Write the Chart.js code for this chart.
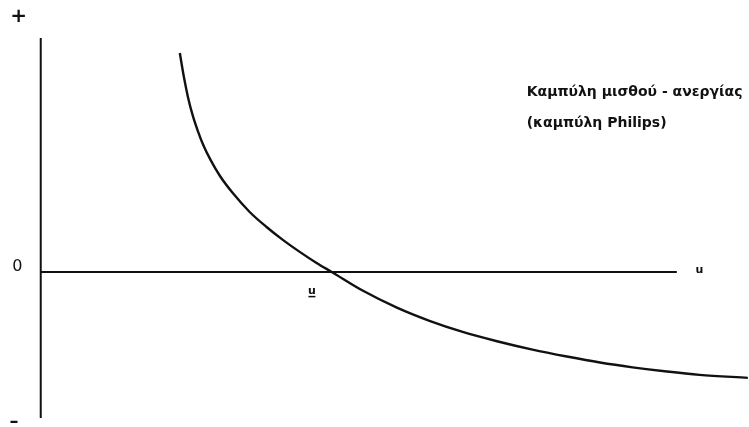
<!DOCTYPE html>
<html>
<head>
<meta charset="utf-8">
<script src="https://cdn.jsdelivr.net/npm/chart.js@4/dist/chart.umd.min.js"></script>
<style>
  html, body { margin: 0; padding: 0; background: #fff; }
  #wrap { width: 749px; height: 427px; }
</style>
</head>
<body>
<div id="wrap"><canvas id="chart" width="749" height="427"></canvas></div>
<script>
"use strict";

// Phillips curve (u = unemployment, y = wage change)
const curveU = [2.39, 2.46, 2.53, 2.61, 2.70, 2.80, 2.92, 3.08, 3.30, 3.59, 3.88, 4.16, 4.45, 4.74,
                5.00, 5.53, 6.12, 6.68, 7.25, 7.84, 8.45, 9.04, 9.61, 10.17, 10.76, 11.32, 12.15];
const curveW = [7.30, 6.50, 5.83, 5.23, 4.70, 4.20, 3.73, 3.20, 2.63, 2.00, 1.50, 1.07, 0.67, 0.30,
                0.00, -0.62, -1.19, -1.63, -2.00, -2.31, -2.59, -2.82, -3.02, -3.18, -3.32, -3.43, -3.53];

// axes as drawn in the figure
const yAxisTop = 7.8;
const yAxisBottom = -4.87;
const xAxisEnd = 10.93;

const titleLines = ['Καμπύλη μισθού - ανεργίας', '(καμπύλη Philips)'];
const axisLabels = [
    { text: '+', u: -0.38, w: 8.5, font: 'bold 20px "DejaVu Sans"' },
    { text: '0', u: -0.40, w: 0.17, font: '16px "DejaVu Sans"' },
    { text: '–', u: -0.46, w: -5.0, font: 'bold 18px "DejaVu Sans"' },
    { text: 'u', u: 11.32, w: 0.05, font: 'bold 11px "DejaVu Sans"' }
];
const naturalRate = { text: 'u', u: 4.66, w: -0.63 };

const curve = curveU.map((u, i) => ({ x: u, y: curveW[i] }));

const textPlugin = {
    id: 'figureText',
    afterDatasetsDraw(chart) {
        const ctx = chart.ctx;
        const xs = chart.scales.x;
        const ys = chart.scales.y;
        ctx.save();
        ctx.fillStyle = '#111';
        ctx.textAlign = 'center';
        ctx.textBaseline = 'middle';
        axisLabels.forEach(l => {
            ctx.font = l.font;
            ctx.fillText(l.text, xs.getPixelForValue(l.u), ys.getPixelForValue(l.w));
        });

        // u with underline (natural rate)
        const nx = xs.getPixelForValue(naturalRate.u);
        const ny = ys.getPixelForValue(naturalRate.w);
        ctx.font = 'bold 11px "DejaVu Sans"';
        ctx.fillText(naturalRate.text, nx, ny);
        ctx.fillRect(nx - 3.5, ny + 5, 7, 1.5);

        ctx.textAlign = 'left';
        ctx.font = 'bold 14px "DejaVu Sans"';
        ctx.fillText(titleLines[0], xs.getPixelForValue(8.35), ys.getPixelForValue(6.0));
        ctx.fillText(titleLines[1], xs.getPixelForValue(8.35), ys.getPixelForValue(4.97));
        ctx.restore();
    }
};

new Chart(document.getElementById('chart'), {
    type: 'scatter',
    data: {
        datasets: [
            {
                data: curve,
                showLine: true,
                borderColor: '#111',
                borderWidth: 2.4,
                pointRadius: 0,
                cubicInterpolationMode: 'monotone'
            },
            {
                data: [{ x: 0, y: yAxisTop }, { x: 0, y: yAxisBottom }],
                showLine: true,
                borderColor: '#111',
                borderWidth: 2,
                pointRadius: 0
            },
            {
                data: [{ x: 0, y: 0 }, { x: xAxisEnd, y: 0 }],
                showLine: true,
                borderColor: '#111',
                borderWidth: 2,
                pointRadius: 0
            }
        ]
    },
    options: {
        responsive: false,
        animation: false,
        layout: { padding: 0 },
        plugins: {
            legend: { display: false },
            tooltip: { enabled: false }
        },
        scales: {
            x: { type: 'linear', min: -0.7, max: 12.17, display: false },
            y: { type: 'linear', min: -5.17, max: 9.07, display: false }
        }
    },
    plugins: [textPlugin]
});
</script>
</body>
</html>
